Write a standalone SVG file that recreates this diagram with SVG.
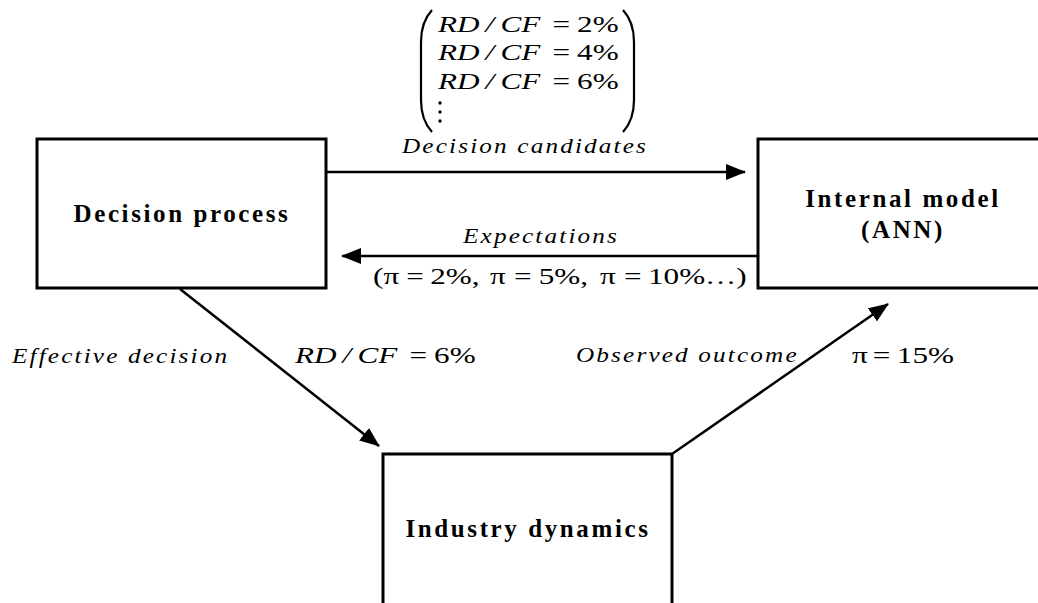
<svg xmlns="http://www.w3.org/2000/svg" width="1038" height="603" viewBox="0 0 1038 603">
<style>
.box{fill:#fff;stroke:#000;stroke-width:3}
.node{font-family:"Liberation Serif",serif;font-weight:bold;font-size:25px;letter-spacing:2.6px;fill:#000;text-anchor:middle}
.lbl{font-family:"Liberation Serif",serif;font-style:italic;font-size:21px;letter-spacing:1.8px;fill:#000}
.math{font-family:"Liberation Serif",serif;font-style:italic;font-size:24px;fill:#000}
.up{font-style:normal}
.conn{stroke:#000;stroke-width:2.5;fill:none}
.par{stroke:#000;stroke-width:2.2;fill:none}
</style>
<defs>
<marker id="ah" markerUnits="userSpaceOnUse" markerWidth="20" markerHeight="16" refX="19" refY="8" orient="auto">
<path d="M0,0 L20,8 L0,16 z" fill="#000"/>
</marker>
</defs>
<rect width="1038" height="603" fill="#fff"/>
<g id="connectors">
<line class="conn" x1="326" y1="172" x2="745" y2="172" marker-end="url(#ah)"/>
<line class="conn" x1="758" y1="256" x2="342" y2="256" marker-end="url(#ah)"/>
<line class="conn" x1="180" y1="289" x2="379" y2="446" marker-end="url(#ah)"/>
<line class="conn" x1="672" y1="454" x2="888" y2="304" marker-end="url(#ah)"/>
</g>
<g id="decision-process">
<rect class="box" x="37" y="139" width="289" height="149"/>
<text class="node" x="182" y="222">Decision process</text>
</g>
<g id="internal-model">
<rect class="box" x="758" y="139" width="290" height="149"/>
<text class="node" x="903" y="207">Internal model</text>
<text class="node" x="903" y="238">(ANN)</text>
</g>
<g id="industry-dynamics">
<rect class="box" x="383" y="454" width="289" height="160"/>
<text class="node" x="528" y="537">Industry dynamics</text>
</g>
<g id="labels">
<path class="par" d="M432,10 Q421,22 421,42 L421,100 Q421,120 432,132"/>
<path class="par" d="M623,10 Q634,22 634,42 L634,100 Q634,120 623,132"/>
<text class="math" transform="translate(438,32) scale(1.3,1)"><tspan x="0">RD</tspan><tspan x="36.5">/</tspan><tspan x="48">CF</tspan><tspan x="88" class="up">=</tspan><tspan x="107" class="up">2%</tspan></text>
<text class="math" transform="translate(438,60) scale(1.3,1)"><tspan x="0">RD</tspan><tspan x="36.5">/</tspan><tspan x="48">CF</tspan><tspan x="88" class="up">=</tspan><tspan x="107" class="up">4%</tspan></text>
<text class="math" transform="translate(438,89) scale(1.3,1)"><tspan x="0">RD</tspan><tspan x="36.5">/</tspan><tspan x="48">CF</tspan><tspan x="88" class="up">=</tspan><tspan x="107" class="up">6%</tspan></text>
<circle cx="440" cy="103" r="1.7"/>
<circle cx="440" cy="112" r="1.7"/>
<circle cx="440" cy="121" r="1.7"/>
<text class="lbl" transform="translate(402,153) scale(1.2,1)">Decision candidates</text>
<text class="lbl" transform="translate(463,243) scale(1.2,1)">Expectations</text>
<text class="math up" transform="translate(373,284) scale(1.3,1)"><tspan x="0">(π</tspan><tspan x="25.5">=</tspan><tspan x="44">2%,</tspan><tspan x="90">π</tspan><tspan x="108.5">=</tspan><tspan x="127.5">5%,</tspan><tspan x="174.6">π</tspan><tspan x="193">=</tspan><tspan x="211.5">10%…)</tspan></text>
<text class="lbl" transform="translate(12,363) scale(1.2,1)">Effective decision</text>
<text class="math" transform="translate(295,363) scale(1.3,1)"><tspan x="0">RD</tspan><tspan x="36.5">/</tspan><tspan x="48">CF</tspan><tspan x="88" class="up">=</tspan><tspan x="107" class="up">6%</tspan></text>
<text class="lbl" transform="translate(576,362) scale(1.2,1)">Observed outcome</text>
<text class="math up" transform="translate(852,363) scale(1.3,1)"><tspan x="0">π</tspan><tspan x="16">=</tspan><tspan x="34.5">15%</tspan></text>
</g>
</svg>
